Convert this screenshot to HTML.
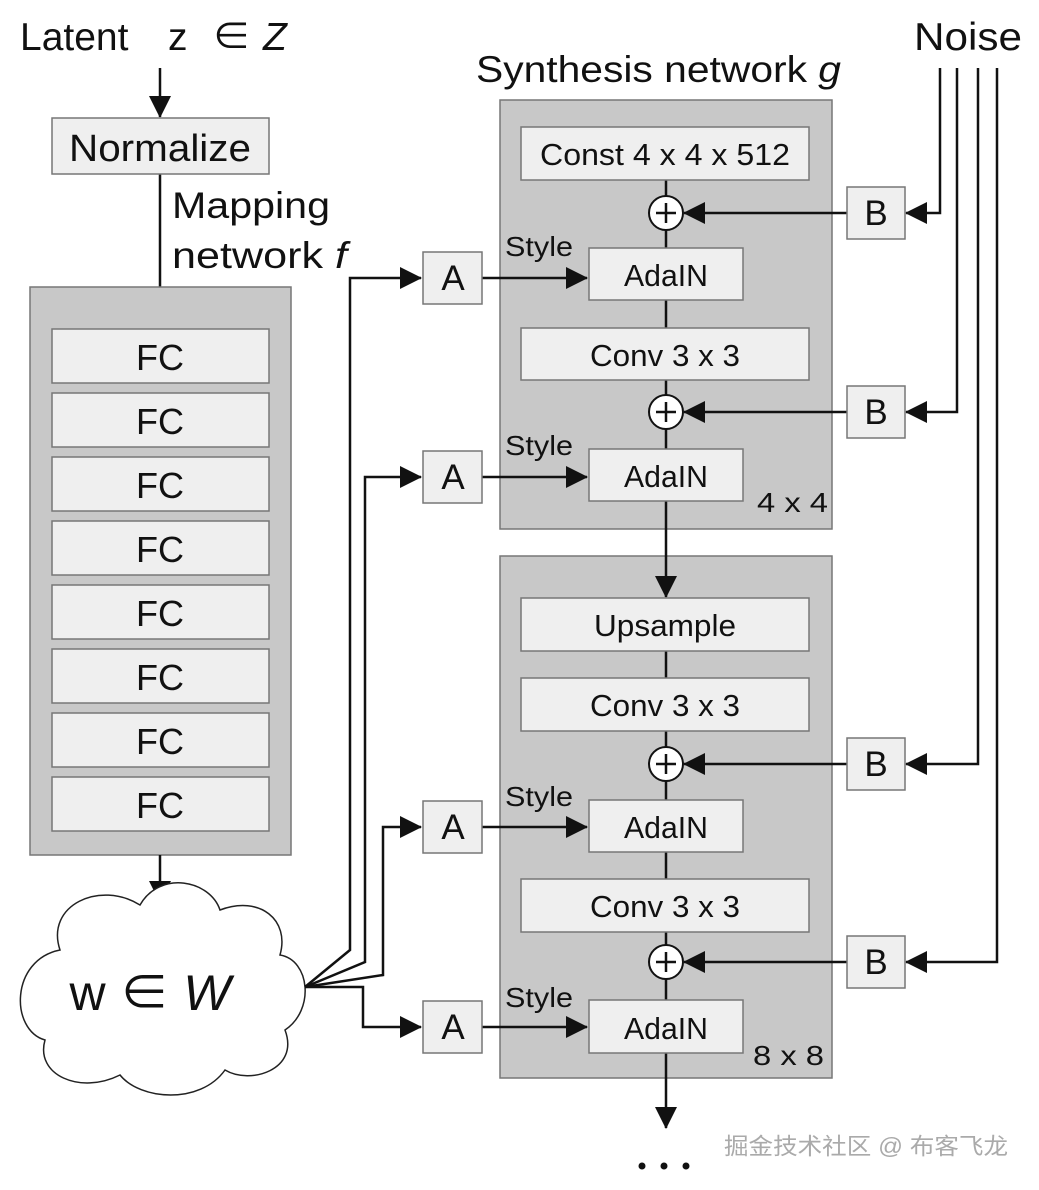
<!DOCTYPE html>
<html><head><meta charset="utf-8"><style>
html,body{margin:0;padding:0;background:#fff;}
svg{display:block;font-family:"Liberation Sans","Noto Sans CJK SC",sans-serif;}
</style></head><body>
<svg width="1039" height="1190" viewBox="0 0 1039 1190" xmlns="http://www.w3.org/2000/svg">
<defs>
<marker id="ar2" markerWidth="22" markerHeight="22" refX="21" refY="11" orient="auto" markerUnits="userSpaceOnUse">
<path d="M0,0 L22,11 L0,22 Z" fill="#111"/></marker>
</defs>
<g fill="#111" font-size="39">
<text x="20" y="50">Latent</text>
<text x="168" y="50">z</text>
<text x="212" y="50">∈</text>
<text x="263" y="50" font-style="italic">Z</text>
<text x="914" y="50" textLength="108" lengthAdjust="spacingAndGlyphs">Noise</text>
<text x="476" y="82" font-size="37" textLength="365" lengthAdjust="spacingAndGlyphs">Synthesis network <tspan font-style="italic">g</tspan></text>
<text x="172" y="218" font-size="37" textLength="158" lengthAdjust="spacingAndGlyphs">Mapping</text>
<text x="172" y="268" font-size="37" textLength="175" lengthAdjust="spacingAndGlyphs">network <tspan font-style="italic">f</tspan></text>
</g>
<g stroke="#111" stroke-width="2.5" fill="none">
<line x1="160" y1="68" x2="160" y2="117" marker-end="url(#ar2)"/>
<line x1="160" y1="174" x2="160" y2="287"/>
</g>
<rect x="52" y="118" width="217" height="56" fill="#efefef" stroke="#777" stroke-width="1.5"/>
<text x="160" y="161" font-size="38" text-anchor="middle" fill="#111" textLength="182" lengthAdjust="spacingAndGlyphs">Normalize</text>
<rect x="30" y="287" width="261" height="568" fill="#c8c8c8" stroke="#777" stroke-width="1.5"/>
<g fill="#efefef" stroke="#777" stroke-width="1.5">
<rect x="52" y="329" width="217" height="54"/><rect x="52" y="393" width="217" height="54"/>
<rect x="52" y="457" width="217" height="54"/><rect x="52" y="521" width="217" height="54"/>
<rect x="52" y="585" width="217" height="54"/><rect x="52" y="649" width="217" height="54"/>
<rect x="52" y="713" width="217" height="54"/><rect x="52" y="777" width="217" height="54"/>
</g>
<g font-size="36" text-anchor="middle" fill="#111">
<text x="160" y="370">FC</text><text x="160" y="434">FC</text><text x="160" y="498">FC</text><text x="160" y="562">FC</text>
<text x="160" y="626">FC</text><text x="160" y="690">FC</text><text x="160" y="754">FC</text><text x="160" y="818">FC</text>
</g>
<line x1="160" y1="855" x2="160" y2="902" stroke="#111" stroke-width="2.5" marker-end="url(#ar2)"/>
<path d="M60,950 C45,905 100,880 140,905 C160,870 210,880 220,910 C260,895 290,920 280,955 C310,960 315,1010 285,1030 C300,1070 250,1085 225,1070 C200,1105 140,1100 120,1075 C80,1095 35,1075 45,1040 C10,1030 10,960 60,950 Z" fill="#fff" stroke="#222" stroke-width="1.5"/>
<text x="150" y="1010" font-size="50" text-anchor="middle" fill="#111">w ∈ <tspan font-style="italic">W</tspan></text>
<g stroke="#111" stroke-width="2.5" fill="none">
<polyline points="305,987 350,950 350,278 421,278" marker-end="url(#ar2)"/>
<polyline points="305,987 365,962 365,477 421,477" marker-end="url(#ar2)"/>
<polyline points="305,987 383,975 383,827 421,827" marker-end="url(#ar2)"/>
<polyline points="305,987 363,987 363,1027 421,1027" marker-end="url(#ar2)"/>
</g>
<rect x="500" y="100" width="332" height="429" fill="#c8c8c8" stroke="#777" stroke-width="1.5"/>
<rect x="500" y="556" width="332" height="522" fill="#c8c8c8" stroke="#777" stroke-width="1.5"/>
<g stroke="#111" stroke-width="2.5" fill="none">
<line x1="666" y1="180" x2="666" y2="248"/>
<line x1="666" y1="300" x2="666" y2="449"/>
<line x1="666" y1="501" x2="666" y2="597" marker-end="url(#ar2)"/>
<line x1="666" y1="651" x2="666" y2="800"/>
<line x1="666" y1="852" x2="666" y2="1000"/>
<line x1="666" y1="1053" x2="666" y2="1128" marker-end="url(#ar2)"/>
<line x1="482" y1="278" x2="587" y2="278" marker-end="url(#ar2)"/>
<line x1="482" y1="477" x2="587" y2="477" marker-end="url(#ar2)"/>
<line x1="482" y1="827" x2="587" y2="827" marker-end="url(#ar2)"/>
<line x1="482" y1="1027" x2="587" y2="1027" marker-end="url(#ar2)"/>
<line x1="847" y1="213" x2="684" y2="213" marker-end="url(#ar2)"/>
<line x1="847" y1="412" x2="684" y2="412" marker-end="url(#ar2)"/>
<line x1="847" y1="764" x2="684" y2="764" marker-end="url(#ar2)"/>
<line x1="847" y1="962" x2="684" y2="962" marker-end="url(#ar2)"/>
<polyline points="940,68 940,213 906,213" marker-end="url(#ar2)"/>
<polyline points="957,68 957,412 906,412" marker-end="url(#ar2)"/>
<polyline points="978,68 978,764 906,764" marker-end="url(#ar2)"/>
<polyline points="997,68 997,962 906,962" marker-end="url(#ar2)"/>
</g>
<g fill="#efefef" stroke="#777" stroke-width="1.5">
<rect x="521" y="127" width="288" height="53"/>
<rect x="589" y="248" width="154" height="52"/>
<rect x="521" y="328" width="288" height="52"/>
<rect x="589" y="449" width="154" height="52"/>
<rect x="521" y="598" width="288" height="53"/>
<rect x="521" y="678" width="288" height="53"/>
<rect x="589" y="800" width="154" height="52"/>
<rect x="521" y="879" width="288" height="53"/>
<rect x="589" y="1000" width="154" height="53"/>
<rect x="423" y="252" width="59" height="52"/><rect x="423" y="451" width="59" height="52"/>
<rect x="423" y="801" width="59" height="52"/><rect x="423" y="1001" width="59" height="52"/>
<rect x="847" y="187" width="58" height="52"/><rect x="847" y="386" width="58" height="52"/>
<rect x="847" y="738" width="58" height="52"/><rect x="847" y="936" width="58" height="52"/>
</g>
<g fill="#fff" stroke="#111" stroke-width="2">
<circle cx="666" cy="213" r="17"/><circle cx="666" cy="412" r="17"/>
<circle cx="666" cy="764" r="17"/><circle cx="666" cy="962" r="17"/>
</g>
<g stroke="#111" stroke-width="2.5">
<path d="M656,213h20M666,203v20M656,412h20M666,402v20M656,764h20M666,754v20M656,962h20M666,952v20"/>
</g>
<g fill="#111" text-anchor="middle" font-size="31">
<text x="665" y="165" textLength="250" lengthAdjust="spacingAndGlyphs">Const 4 x 4 x 512</text>
<text x="666" y="286" textLength="84" lengthAdjust="spacingAndGlyphs">AdaIN</text>
<text x="665" y="366" textLength="150" lengthAdjust="spacingAndGlyphs">Conv 3 x 3</text>
<text x="666" y="487" textLength="84" lengthAdjust="spacingAndGlyphs">AdaIN</text>
<text x="665" y="636" textLength="142" lengthAdjust="spacingAndGlyphs">Upsample</text>
<text x="665" y="716" textLength="150" lengthAdjust="spacingAndGlyphs">Conv 3 x 3</text>
<text x="666" y="838" textLength="84" lengthAdjust="spacingAndGlyphs">AdaIN</text>
<text x="665" y="917" textLength="150" lengthAdjust="spacingAndGlyphs">Conv 3 x 3</text>
<text x="666" y="1039" textLength="84" lengthAdjust="spacingAndGlyphs">AdaIN</text>
<g font-size="35">
<text x="453" y="290">A</text><text x="453" y="489">A</text><text x="453" y="839">A</text><text x="453" y="1039">A</text>
<text x="876" y="225">B</text><text x="876" y="424">B</text><text x="876" y="776">B</text><text x="876" y="974">B</text>
</g>
</g>
<g fill="#111" font-size="28">
<text x="505" y="256" textLength="68" lengthAdjust="spacingAndGlyphs">Style</text><text x="505" y="455" textLength="68" lengthAdjust="spacingAndGlyphs">Style</text>
<text x="505" y="806" textLength="68" lengthAdjust="spacingAndGlyphs">Style</text><text x="505" y="1007" textLength="68" lengthAdjust="spacingAndGlyphs">Style</text>
<text x="757" y="512" textLength="71" lengthAdjust="spacingAndGlyphs">4 x 4</text><text x="753" y="1065" textLength="71" lengthAdjust="spacingAndGlyphs">8 x 8</text>
</g>
<g fill="#111"><circle cx="642" cy="1166" r="3.5"/><circle cx="664" cy="1166" r="3.5"/><circle cx="686" cy="1166" r="3.5"/></g>
<text x="724" y="1154" font-size="23" fill="#aaa" textLength="284" lengthAdjust="spacingAndGlyphs">掘金技术社区 @ 布客飞龙</text>
</svg>
</body></html>
